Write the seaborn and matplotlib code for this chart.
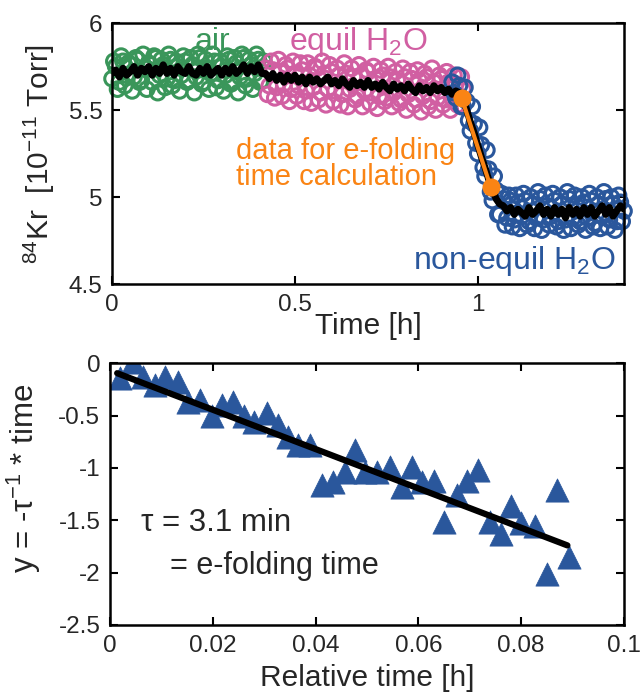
import numpy as np
import seaborn as sns
from matplotlib import pyplot as plt
from matplotlib.ticker import FormatStrFormatter

# --- top panel: 84Kr signal, two interleaved reads every 0.01 h ---
step = 0.01
t_air0, t_eq0, t_ne0 = 0.0, 0.42, 0.93

kr_air = [5.68, 5.75, 5.66, 5.78, 5.70, 5.76, 5.69, 5.79, 5.67, 5.74,
          5.77, 5.66, 5.80, 5.70, 5.76, 5.68, 5.79, 5.67, 5.75, 5.70,
          5.78, 5.67, 5.76, 5.69, 5.80, 5.66, 5.74, 5.71, 5.78, 5.67,
          5.75, 5.70, 5.79, 5.66, 5.77, 5.69, 5.80, 5.68, 5.76, 5.71,
          5.79, 5.67, 5.74]
kr_air_b = [5.78, 5.62, 5.81, 5.64, 5.77, 5.61, 5.80, 5.66, 5.82, 5.62,
            5.76, 5.81, 5.60, 5.79, 5.63, 5.82, 5.64, 5.78, 5.61, 5.81,
            5.66, 5.80, 5.60, 5.82, 5.65, 5.79, 5.62, 5.82, 5.63, 5.78,
            5.61, 5.81, 5.65, 5.80, 5.60, 5.82, 5.64, 5.79, 5.62, 5.82,
            5.66, 5.78]
kr_equil = [5.74, 5.64, 5.73, 5.63, 5.72, 5.65, 5.74, 5.62, 5.71, 5.64,
            5.73, 5.61, 5.70, 5.63, 5.74, 5.60, 5.71, 5.62, 5.72, 5.61,
            5.70, 5.59, 5.71, 5.62, 5.69, 5.58, 5.70, 5.61, 5.72, 5.60,
            5.68, 5.58, 5.70, 5.57, 5.69, 5.60, 5.67, 5.56, 5.69, 5.59,
            5.68, 5.56, 5.67, 5.58, 5.69, 5.55, 5.66, 5.57, 5.68, 5.56,
            5.66, 5.57, 5.65, 5.58, 5.62]
kr_equil_b = [5.59, 5.78, 5.57, 5.79, 5.58, 5.76, 5.55, 5.78, 5.58, 5.77,
              5.55, 5.77, 5.54, 5.75, 5.56, 5.78, 5.53, 5.76, 5.55, 5.74,
              5.53, 5.77, 5.52, 5.74, 5.56, 5.76, 5.52, 5.73, 5.54, 5.75,
              5.51, 5.73, 5.55, 5.75, 5.52, 5.72, 5.54, 5.74, 5.50, 5.72,
              5.53, 5.73, 5.49, 5.71, 5.52, 5.74, 5.50, 5.70, 5.53, 5.72,
              5.50, 5.70, 5.53, 5.69]
kr_nonequil = [5.66, 5.57, 5.64, 5.52, 5.55, 5.38, 5.42,
               5.25, 5.30, 5.12, 5.16, 4.98, 5.04, 4.90, 4.99, 4.88, 4.98,
               4.87, 4.97, 4.89, 4.98, 4.86, 4.96, 4.88, 4.99, 4.87, 4.95,
               4.89, 4.98, 4.86, 4.96, 4.87, 4.99, 4.88, 4.95, 4.86, 4.97,
               4.88, 4.98, 4.85, 4.96, 4.89, 4.99, 4.87, 4.96, 4.86, 4.97, 4.92]
kr_nonequil_b = [5.60, 5.70, 5.52, 5.63, 5.44, 5.52, 5.31,
                 5.40, 5.17, 5.27, 5.03, 5.12, 4.90, 5.02, 4.84, 5.01, 4.83,
                 5.01, 4.82, 5.02, 4.84, 5.00, 4.82, 5.03, 4.81, 5.01, 4.84,
                 5.02, 4.83, 5.00, 4.81, 5.03, 4.82, 5.01, 4.84, 5.00, 4.81,
                 5.02, 4.83, 5.00, 4.82, 5.03, 4.83, 5.00, 4.81, 5.01, 4.86]
kr_mean = [5.71, 5.73, 5.69, 5.74, 5.70, 5.72, 5.75, 5.70, 5.74, 5.72,
           5.75, 5.70, 5.74, 5.71, 5.76, 5.71, 5.74, 5.70, 5.75, 5.72,
           5.71, 5.75, 5.71, 5.70, 5.74, 5.71, 5.75, 5.70, 5.72, 5.74,
           5.70, 5.74, 5.71, 5.75, 5.71, 5.73, 5.76, 5.71, 5.75, 5.72,
           5.76, 5.71, 5.71, 5.68, 5.71, 5.67, 5.70, 5.66, 5.70, 5.67,
           5.70, 5.66, 5.69, 5.65, 5.69, 5.66, 5.68, 5.65, 5.67, 5.69,
           5.65, 5.67, 5.64, 5.68, 5.65, 5.63, 5.67, 5.64, 5.66, 5.63,
           5.67, 5.63, 5.65, 5.62, 5.66, 5.63, 5.61, 5.65, 5.62, 5.64,
           5.61, 5.65, 5.62, 5.60, 5.64, 5.61, 5.63, 5.60, 5.64, 5.61,
           5.63, 5.60, 5.62, 5.59, 5.61, 5.60, 5.57, 5.50, 5.43, 5.37,
           5.30, 5.23, 5.17, 5.10, 5.05, 4.99, 4.96, 4.95, 4.92, 4.94,
           4.90, 4.93, 4.91, 4.89, 4.94, 4.90, 4.92, 4.95, 4.90, 4.93,
           4.89, 4.94, 4.90, 4.93, 4.88, 4.94, 4.90, 4.93, 4.89, 4.94,
           4.90, 4.94, 4.89, 4.92, 4.95, 4.90, 4.94, 4.89, 4.92, 4.95,
           4.93]
efold_t = [0.956, 1.035]
efold_kr = [5.57, 5.06]

# --- bottom panel: linearised decay ---
rel_t = [0.0019, 0.0045, 0.0064, 0.0088, 0.0107, 0.0132, 0.0152, 0.0175,
         0.0198, 0.0218, 0.0240, 0.0260, 0.0280, 0.0305, 0.0327, 0.0346,
         0.0366, 0.0390, 0.0412, 0.0434, 0.0457, 0.0477, 0.0496, 0.0520,
         0.0545, 0.0568, 0.0588, 0.0607, 0.0630, 0.0650, 0.0675, 0.0695,
         0.0716, 0.0740, 0.0760, 0.0780, 0.0800, 0.0827, 0.0850, 0.0870,
         0.0893]
y_lin = [-0.14, 0.01, -0.13, -0.21, -0.13, -0.18, -0.37, -0.35,
         -0.50, -0.40, -0.37, -0.50, -0.56, -0.48, -0.59, -0.70,
         -0.78, -0.78, -1.16, -1.13, -1.04, -0.83, -1.04, -1.04,
         -0.99, -1.18, -0.99, -1.13, -1.12, -1.52, -1.26, -1.12,
         -1.02, -1.52, -1.63, -1.36, -1.53, -1.55, -2.01, -1.21,
         -1.85]
fit_t = [0.0014, 0.0890]
fit_y = [-0.095, -1.74]

green, pink, blue, orange = "#3a965a", "#d15fa2", "#2a579c", "#fa8414"

sns.set_theme(style="ticks")
plt.rcParams["font.family"] = ["Liberation Sans", "DejaVu Sans"]
plt.rcParams["mathtext.default"] = "regular"
plt.rcParams["axes.unicode_minus"] = False

fig = plt.figure(figsize=(6.42, 6.98), dpi=100)
ax1 = fig.add_axes([0.1745, 0.593, 0.7975, 0.374])
ax2 = fig.add_axes([0.1713, 0.1046, 0.8006, 0.375])

def times(t0, n):
    return np.round(t0 + step * np.arange(n), 3)

circ = dict(marker="o", s=110, facecolor="none", linewidth=2.2, legend=False, clip_on=False)
for t0, vals, col in [(t_air0, kr_air, green), (t_air0 + step / 2, kr_air_b, green),
                      (t_eq0, kr_equil, pink), (t_eq0 + step / 2, kr_equil_b, pink),
                      (t_ne0, kr_nonequil, blue), (t_ne0 + step / 2, kr_nonequil_b, blue)]:
    sns.scatterplot(x=times(t0, len(vals)), y=vals, edgecolor=col, ax=ax1, **circ)
sns.lineplot(x=times(0.0, len(kr_mean)), y=kr_mean, color="black", lw=5, ax=ax1)
sns.lineplot(x=efold_t, y=efold_kr, color=orange, lw=3, marker="o", markersize=13,
             markeredgewidth=0, ax=ax1)

ax1.set_xlim(0, 1.4)
ax1.set_ylim(4.5, 6)
ax1.set_xticks([0, 0.5, 1])
ax1.set_yticks([4.5, 5, 5.5, 6])
ax1.xaxis.set_major_formatter(FormatStrFormatter("%g"))
ax1.yaxis.set_major_formatter(FormatStrFormatter("%g"))
ax1.set_xlabel("Time [h]", fontsize=21.5, labelpad=-3)
ax1.set_ylabel("$^{84}$Kr  [10$^{-11}$ Torr]", fontsize=21.5, labelpad=8)

ax1.text(0.275, 5.89, "air", color=green, fontsize=23, ha="center", va="center")
ax1.text(0.485, 5.89, "equil H$_2$O", color=pink, fontsize=23, ha="left", va="center")
ax1.text(0.823, 4.63, "non-equil H$_2$O", color=blue, fontsize=23, ha="left", va="center")
ax1.text(0.338, 5.19, "data for e-folding\ntime calculation", color=orange, fontsize=21,
         ha="left", va="center", linespacing=0.95)

sns.scatterplot(x=rel_t, y=y_lin, marker="^", s=280, color=blue, edgecolor=blue,
                linewidth=0.5, legend=False, ax=ax2)
sns.lineplot(x=fit_t, y=fit_y, color="black", lw=4.5, ax=ax2)
ax2.set_xlim(0, 0.1)
ax2.set_ylim(-2.5, 0)
ax2.set_xticks([0, 0.02, 0.04, 0.06, 0.08, 0.1])
ax2.set_yticks([-2.5, -2, -1.5, -1, -0.5, 0])
ax2.xaxis.set_major_formatter(FormatStrFormatter("%g"))
ax2.yaxis.set_major_formatter(FormatStrFormatter("%g"))
ax2.set_xlabel("Relative time [h]", fontsize=21.5, labelpad=5)
ax2.set_ylabel("y = -τ$^{-1}$ * time", fontsize=22.5)
ax2.yaxis.set_label_coords(-0.13, 0.56)
ax2.text(0.006, -1.53, "τ = 3.1 min", fontsize=22.5, ha="left", va="center")
ax2.text(0.0117, -1.94, "= e-folding time", fontsize=22, ha="left", va="center")

for ax in (ax1, ax2):
    ax.tick_params(direction="in", top=True, right=True, length=6, width=1.5,
                   labelsize=17.5, pad=7, color="black")
    for sp in ax.spines.values():
        sp.set_linewidth(1.8)
        sp.set_color("black")

fig.savefig("out.png", dpi=100)
